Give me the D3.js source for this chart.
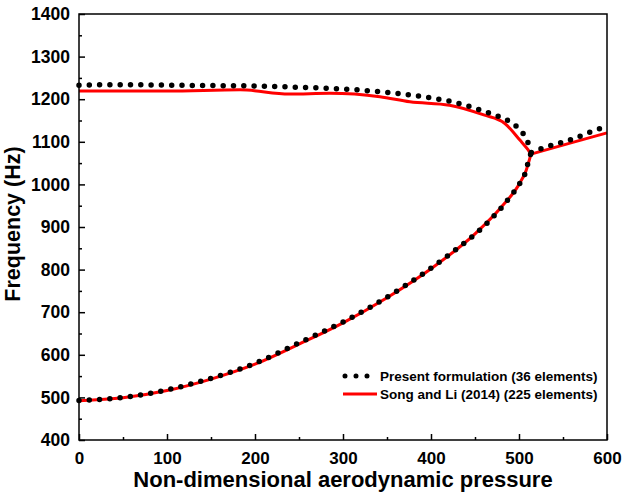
<!DOCTYPE html>
<html>
<head>
<meta charset="utf-8">
<script src="https://cdn.jsdelivr.net/npm/d3@7"></script>
<style>
  body { margin: 0; background: #fff; }
  text { font-family: Arial, "Liberation Sans", sans-serif; font-weight: bold; }
</style>
</head>
<body>
<div id="chart"></div>
<script>
// Present formulation (36 elements) - dotted black
var presentUpper = [[0,1233],[50,1234],[100,1233],[150,1232],[200,1231],[250,1228],[300,1224],[350,1216],[376,1210],[400,1203],[424,1194],[460,1172],[480,1157],[490,1147],[500,1130],[507,1112],[512,1088],[514,1075]];
var presentLower = [[0,493],[12,494],[58,502],[103,519],[137,537],[200,580],[250,628],[300,677],[372,764],[420,834],[465,912],[490,971],[503,1010],[508,1032],[511,1057],[514,1075]];
var presentMerged = [[514,1075],[527,1085],[560,1106],[594,1132],[600,1135]];

// Song and Li (2014) (225 elements) - red line
var songUpper = [[0,1219],[100,1219],[183,1222],[239,1212],[285,1214],[342,1206],[376,1194],[421,1186],[460,1163],[484,1143],[501,1104],[510,1082],[513.6,1071]];
var songLower = [[0,492],[50,499],[100,516],[150,543],[200,578],[250,625],[300,675],[350,734],[400,802],[450,884],[480,947],[500,1000],[508,1032],[513.6,1071]];
var songMerged = [[513.6,1071],[560,1098],[600,1121]];

var xTicks = [0, 100, 200, 300, 400, 500, 600];
var yTicks = [400, 500, 600, 700, 800, 900, 1000, 1100, 1200, 1300, 1400];
var legendLabels = ["Present formulation (36 elements)", "Song and Li (2014) (225 elements)"];

var margin = { top: 14, right: 17, bottom: 53, left: 79 },
    width = 624 - margin.left - margin.right,
    height = 493 - margin.top - margin.bottom;

var svg = d3.select("#chart").append("svg")
    .attr("width", 624)
    .attr("height", 493)
    .append("g")
    .attr("transform", `translate(${margin.left},${margin.top})`);

var x = d3.scaleLinear().domain([0, 600]).range([0, width]);
var y = d3.scaleLinear().domain([400, 1400]).range([height, 0]);

var line = d3.line()
    .curve(d3.curveMonotoneX)
    .x(function(d) { return x(d[0]); })
    .y(function(d) { return y(d[1]); });

// red lines first
[songUpper, songLower, songMerged].forEach(function(s) {
    svg.append("path")
        .datum(s)
        .attr("fill", "none")
        .attr("stroke", "#ff0000")
        .attr("stroke-width", 3)
        .attr("stroke-linejoin", "round")
        .attr("d", line);
});

// dotted black
[presentUpper, presentLower, presentMerged].forEach(function(s) {
    svg.append("path")
        .datum(s)
        .attr("fill", "none")
        .attr("stroke", "#000")
        .attr("stroke-width", 5.5)
        .attr("stroke-linecap", "round")
        .attr("stroke-dasharray", "0 10.3")
        .attr("d", line);
});

// frame
svg.append("rect")
    .attr("width", width)
    .attr("height", height)
    .attr("fill", "none")
    .attr("stroke", "#000")
    .attr("stroke-width", 1.5);

// x axis (ticks inward)
var xAxis = svg.append("g")
    .attr("transform", `translate(0,${height})`)
    .call(d3.axisBottom(x).tickValues(xTicks).tickSize(-6).tickPadding(12).tickFormat(d3.format("d")));
xAxis.select(".domain").remove();
xAxis.selectAll("line").attr("stroke-width", 1.5);
xAxis.selectAll("text").style("font-size", "17px").attr("fill", "#000");
svg.append("g")
    .attr("transform", `translate(0,${height})`)
    .call(d3.axisBottom(x).tickValues(d3.range(50, 600, 100)).tickSize(-3).tickFormat(""))
    .call(function(g) { g.select(".domain").remove(); g.selectAll("line").attr("stroke-width", 1.5); });

// y axis
var yAxis = svg.append("g")
    .call(d3.axisLeft(y).tickValues(yTicks).tickSize(-6).tickPadding(9).tickFormat(d3.format("d")));
yAxis.select(".domain").remove();
yAxis.selectAll("line").attr("stroke-width", 1.5);
yAxis.selectAll("text").style("font-size", "17.5px").attr("fill", "#000");
svg.append("g")
    .call(d3.axisLeft(y).tickValues(d3.range(450, 1400, 100)).tickSize(-3).tickFormat(""))
    .call(function(g) { g.select(".domain").remove(); g.selectAll("line").attr("stroke-width", 1.5); });

// axis titles
svg.append("text")
    .attr("x", 264)
    .attr("y", height + 47)
    .attr("text-anchor", "middle")
    .style("font-size", "22px")
    .text("Non-dimensional aerodynamic pressure");

svg.append("text")
    .attr("transform", "rotate(-90)")
    .attr("x", -210)
    .attr("y", -59)
    .attr("text-anchor", "middle")
    .style("font-size", "21.5px")
    .text("Frequency (Hz)");

// legend
var lg = svg.append("g").attr("transform", "translate(264,362)");
lg.append("line")
    .attr("x1", 2).attr("x2", 32).attr("y1", 0).attr("y2", 0)
    .attr("stroke", "#000")
    .attr("stroke-width", 5)
    .attr("stroke-linecap", "round")
    .attr("stroke-dasharray", "0 11");
lg.append("line")
    .attr("x1", 0).attr("x2", 34).attr("y1", 18).attr("y2", 18)
    .attr("stroke", "#ff0000")
    .attr("stroke-width", 3);
lg.selectAll("text.leg")
    .data(legendLabels)
    .enter().append("text")
    .attr("class", "leg")
    .attr("x", 37)
    .attr("y", function(d, i) { return i * 18 + 4.5; })
    .style("font-size", "13.5px")
    .text(function(d) { return d; });
</script>
</body>
</html>
